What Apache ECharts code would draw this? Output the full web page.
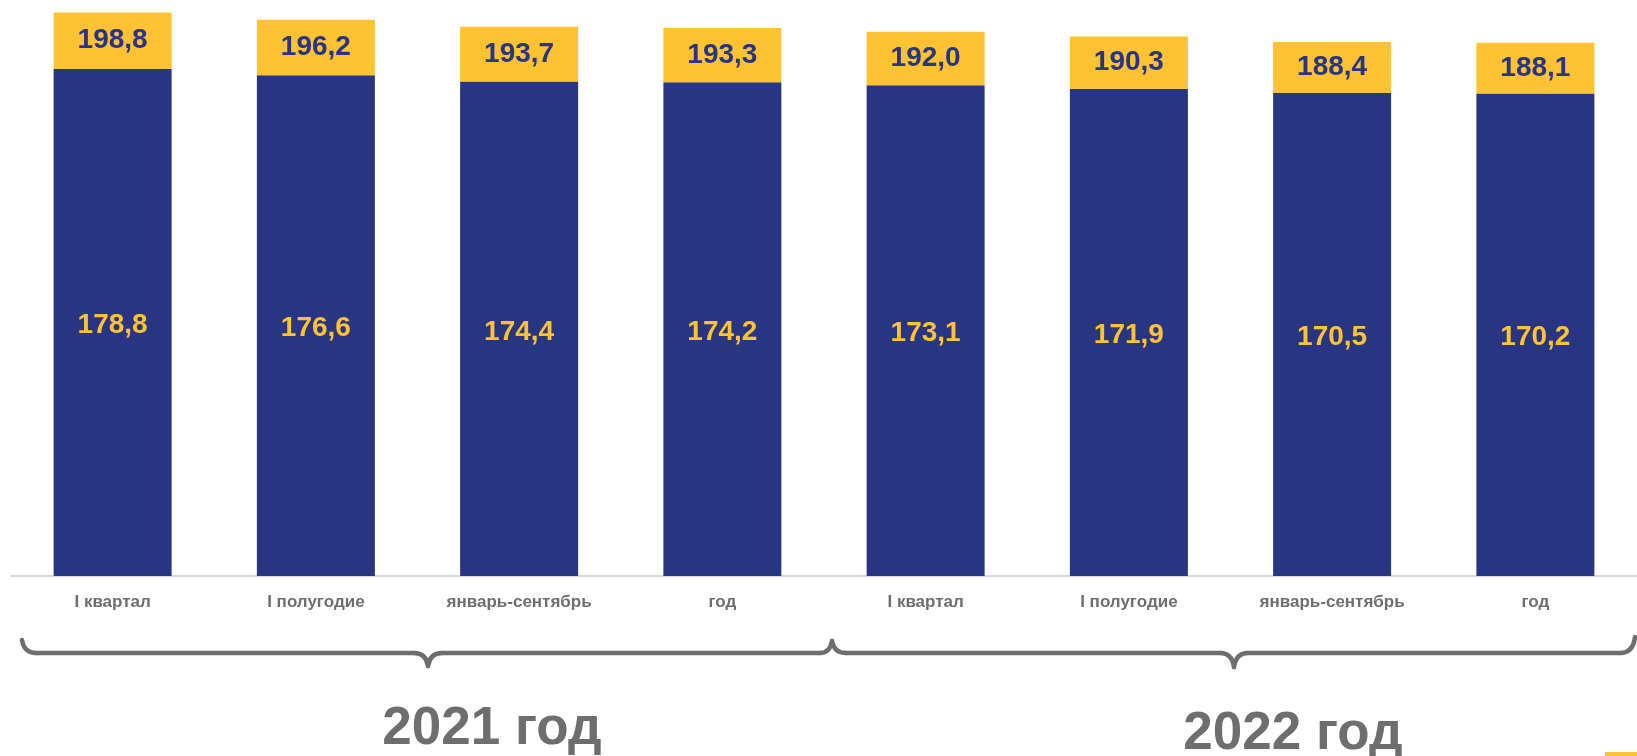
<!DOCTYPE html>
<html>
<head>
<meta charset="utf-8">
<script src="https://cdn.jsdelivr.net/npm/echarts@6/dist/echarts.min.js"></script>
<style>
html,body{margin:0;padding:0;background:#fff;}
#chart{width:1637px;height:756px;}
</style>
</head>
<body>
<div id="chart"></div>
<script>
const categories = ['I квартал','I полугодие','январь-сентябрь','год','I квартал','I полугодие','январь-сентябрь','год'];
const baseValues = [178.8, 176.6, 174.4, 174.2, 173.1, 171.9, 170.5, 170.2];
const totalValues = [198.8, 196.2, 193.7, 193.3, 192.0, 190.3, 188.4, 188.1];
const yearLabels = ['2021 год', '2022 год'];

const BLUE = '#283583';
const YELLOW = '#FFC232';
const GRAY = '#6e6e6e';
const FONT = 'Arial, "Liberation Sans", sans-serif';

const topValues = totalValues.map((t, i) => +(t - baseValues[i]).toFixed(1));
const fmt = v => v.toFixed(1).replace('.', ',');

const strokeStyle = {fill: null, stroke: GRAY, lineWidth: 4.5, lineCap: 'round'};
function seg(x1, y1, x2, y2) {
  return {type: 'line', shape: {x1, y1, x2, y2}, style: strokeStyle};
}
function curve(x1, y1, cx, cy, x2, y2) {
  return {type: 'bezierCurve', shape: {x1, y1, x2, y2, cpx1: cx, cpy1: cy}, style: strokeStyle};
}
const braces = [
  curve(22, 640, 24, 653, 36, 653), seg(36, 653, 414, 653),
  curve(414, 653, 426, 653, 428, 666), curve(428, 666, 430, 653, 442, 653),
  seg(442, 653, 820, 653), curve(820, 653, 830, 653, 832, 641),
  curve(832, 641, 834, 653, 846, 653), seg(846, 653, 1220, 653),
  curve(1220, 653, 1232, 653, 1234, 667), curve(1234, 667, 1236, 653, 1248, 653),
  seg(1248, 653, 1620, 653), curve(1620, 653, 1633, 653, 1635, 637)
];

const chart = echarts.init(document.getElementById('chart'));
chart.setOption({
  animation: false,
  grid: {left: 11, right: -19, top: 9, bottom: 180},
  xAxis: {
    type: 'category',
    data: categories,
    axisLine: {lineStyle: {color: '#d9d9d9', width: 2}},
    axisTick: {show: false},
    axisLabel: {color: GRAY, fontSize: 17, fontWeight: 'bold', fontFamily: FONT, margin: 18, interval: 0}
  },
  yAxis: {
    type: 'value', min: 0, max: 200,
    show: false, splitLine: {show: false}
  },
  series: [
    {
      type: 'bar', stack: 'a', data: baseValues, barWidth: 118,
      itemStyle: {color: BLUE},
      label: {show: true, position: 'inside', color: YELLOW, fontSize: 28, fontWeight: 'bold', fontFamily: FONT,
        offset: [0, 3],
        formatter: p => fmt(baseValues[p.dataIndex])}
    },
    {
      type: 'bar', stack: 'a', data: topValues, barWidth: 118,
      itemStyle: {color: YELLOW},
      label: {show: true, position: 'inside', color: BLUE, fontSize: 28, fontWeight: 'bold', fontFamily: FONT,
        formatter: p => fmt(totalValues[p.dataIndex])}
    }
  ],
  graphic: braces.concat([
    {
      type: 'text', x: 492, y: 729,
      style: {text: yearLabels[0], fill: GRAY, font: 'bold 53px ' + FONT, textAlign: 'center', textVerticalAlign: 'middle'}
    },
    {
      type: 'text', x: 1293, y: 734,
      style: {text: yearLabels[1], fill: GRAY, font: 'bold 53px ' + FONT, textAlign: 'center', textVerticalAlign: 'middle'}
    },
    {
      type: 'rect', shape: {x: 1605, y: 752, width: 32, height: 4},
      style: {fill: YELLOW}
    }
  ])
});
</script>
</body>
</html>
